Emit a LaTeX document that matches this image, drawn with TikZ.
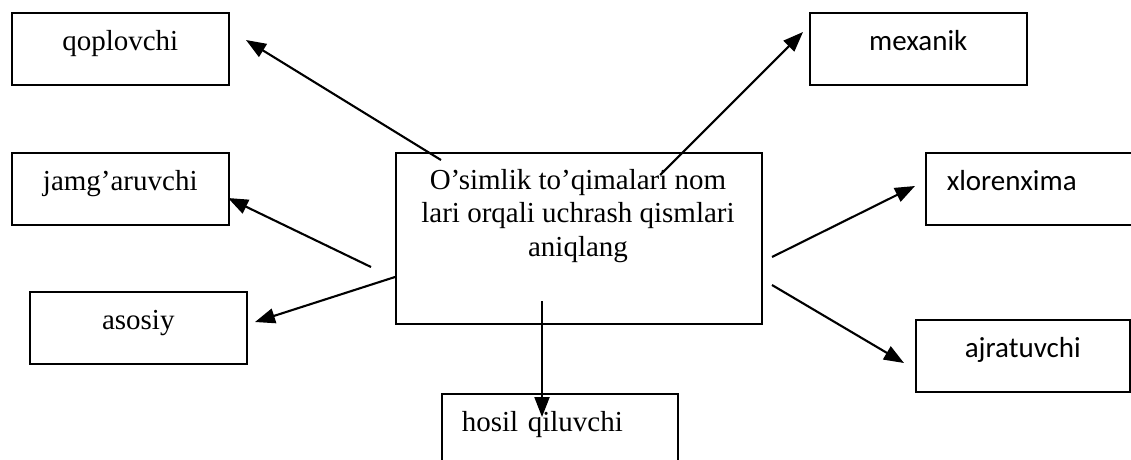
\documentclass[tikz,border=0pt]{standalone}
\usepackage{fontspec}
\setmainfont{Liberation Serif}
\newfontfamily\calibri{Carlito}
\usetikzlibrary{arrows.meta}
\begin{document}
\begin{tikzpicture}[x=1pt,y=-1pt,
	box/.style={draw,line width=1.5pt,inner sep=0pt,anchor=north west,minimum width=217pt,text height=38pt,text depth=34pt,font=\fontsize{29}{33.5}\selectfont},
	link/.style={line width=2.1pt,-{Triangle[length=20pt,width=15pt]}}]
		\useasboundingbox (0,0) rectangle (1131,459);
		\clip (0,0) rectangle (1131,459);
		% boxes
		\node [box] (qoplovchi) at (11,12) {qoplovchi};
		\node [box] (jamgaruvchi) at (11,152) {jamg’aruvchi};
		\node [box] (asosiy) at (29,291) {asosiy};
		\node [box,font=\calibri\fontsize{29}{33.5}\selectfont] (mexanik) at (809,12) {mexanik};
		\node [box,font=\calibri\fontsize{29}{33.5}\selectfont,align=left,text width=220pt,inner xsep=21pt] (xlorenxima) at (925,152) {xlorenxima};
		\node [box,font=\calibri\fontsize{29}{33.5}\selectfont,minimum width=214pt] (ajratuvchi) at (915,319) {ajratuvchi};
		\node [box,align=left,text width=196pt,inner xsep=20pt,text depth=63pt] (hosil) at (441,393) {hosil qiluvchi};
		\node [box,minimum width=366pt,minimum height=171pt,text height=0pt,text depth=0pt] (main) at (395,152) {};
		\node [anchor=north,align=center,inner sep=0pt,font=\fontsize{29}{33.5}\selectfont] (maintext) at (578,169) {O’simlik to’qimalari nom\\lari orqali uchrash qismlari\\aniqlang};
		% arrow ends
		\coordinate (q1) at (441,160); \coordinate (q2) at (246,40);
		\coordinate (m1) at (660,175); \coordinate (m2) at (803,32);
		\coordinate (j1) at (371,267); \coordinate (j2) at (228,198);
		\coordinate (a1) at (395,277); \coordinate (a2) at (255,322);
		\coordinate (x1) at (772,257); \coordinate (x2) at (915,186);
		\coordinate (r1) at (772,285); \coordinate (r2) at (904,363);
		\coordinate (h1) at (542,301); \coordinate (h2) at (542,417);
		\draw [link] (q1)--(q2);
		\draw [link] (m1)--(m2);
		\draw [link] (j1)--(j2);
		\draw [link] (a1)--(a2);
		\draw [link] (x1)--(x2);
		\draw [link] (r1)--(r2);
		\draw [link] (h1)--(h2);
\end{tikzpicture}
\end{document}
